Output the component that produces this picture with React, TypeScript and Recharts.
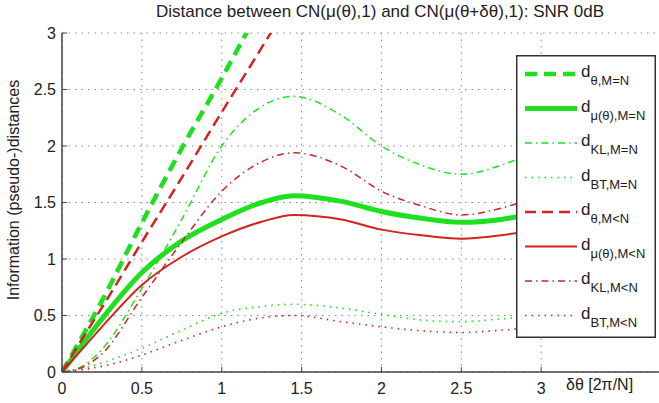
import React from 'react';
import { LineChart, Line, XAxis, YAxis, CartesianGrid, Legend } from 'recharts';

// ---- data ----
const deltaTheta = [0, 0.125, 0.25, 0.5, 0.75, 1.0, 1.25, 1.45, 1.75, 2.0, 2.25, 2.5, 2.75, 3.0, 3.25];

const dThetaEq = [0, 0.31, 0.63, 1.32, 1.98, 2.6, 3.25, 3.77, null, null, null, null, null, null, null];
const dMuEq = [0, 0.24, 0.47, 0.88, 1.16, 1.35, 1.5, 1.56, 1.51, 1.42, 1.36, 1.325, 1.35, 1.42, 1.5];
const dKLEq = [0, 0.05, 0.2, 0.74, 1.35, 2.0, 2.35, 2.44, 2.27, 2.0, 1.83, 1.75, 1.83, 1.98, 2.15];
const dBTEq = [0, 0.03, 0.08, 0.21, 0.37, 0.52, 0.58, 0.6, 0.565, 0.51, 0.46, 0.445, 0.47, 0.5, 0.53];
const dThetaLt = [0, 0.29, 0.57, 1.15, 1.72, 2.3, 2.87, 3.33, null, null, null, null, null, null, null];
const dMuLt = [0, 0.2, 0.4, 0.77, 1.02, 1.2, 1.33, 1.39, 1.35, 1.26, 1.21, 1.18, 1.21, 1.27, 1.35];
const dKLLt = [0, 0.04, 0.16, 0.66, 1.15, 1.6, 1.86, 1.94, 1.82, 1.6, 1.47, 1.39, 1.45, 1.57, 1.7];
const dBTLt = [0, 0.02, 0.05, 0.15, 0.28, 0.4, 0.48, 0.5, 0.445, 0.4, 0.365, 0.35, 0.37, 0.4, 0.43];

const xTicks = [0, 0.5, 1, 1.5, 2, 2.5, 3];
const yTicks = [0, 0.5, 1, 1.5, 2, 2.5, 3];

const seriesSubs = ['θ,M=N', 'μ(θ),M=N', 'KL,M=N', 'BT,M=N', 'θ,M<N', 'μ(θ),M<N', 'KL,M<N', 'BT,M<N'];
const seriesKeys = ['dThetaEq', 'dMuEq', 'dKLEq', 'dBTEq', 'dThetaLt', 'dMuLt', 'dKLLt', 'dBTLt'];
const seriesValues = [dThetaEq, dMuEq, dKLEq, dBTEq, dThetaLt, dMuLt, dKLLt, dBTLt];

const titleText = 'Distance between CN(μ(θ),1) and CN(μ(θ+δθ),1): SNR 0dB';
const xLabelText = 'δθ [2π/N]';
const yLabelText = 'Information (pseudo-)distances';

// ---- styles ----
const GREEN = '#1fe01f';
const RED = '#d42222';
const FONT = '"Liberation Sans", Arial, Helvetica, sans-serif';
const AXIS = '#444';

const seriesStyles = [
  { stroke: GREEN, strokeWidth: 4.5, dash: '12 7' },
  { stroke: GREEN, strokeWidth: 5, dash: undefined },
  { stroke: GREEN, strokeWidth: 1.5, dash: '7 4 1.5 4' },
  { stroke: GREEN, strokeWidth: 1.6, dash: '1.5 5' },
  { stroke: RED, strokeWidth: 2.5, dash: '11 6' },
  { stroke: RED, strokeWidth: 2, dash: undefined },
  { stroke: RED, strokeWidth: 1.5, dash: '7 4 1.5 4' },
  { stroke: RED, strokeWidth: 1.6, dash: '1.5 5' },
];

const data = deltaTheta.map((x, i) => {
  const row: Record<string, number | null> = { x };
  seriesKeys.forEach((k, j) => {
    row[k] = seriesValues[j][i];
  });
  return row;
});

const BottomTick = (props: any) => {
  const { x, y, payload } = props;
  return (
    <g>
      <line x1={x} y1={y} x2={x} y2={y - 5} stroke={AXIS} strokeWidth={1} />
      <text x={x} y={y + 22} textAnchor="middle" fontSize={16} fontFamily={FONT} fill="#222">
        {payload.value}
      </text>
    </g>
  );
};

const TopTick = (props: any) => {
  const { x, y } = props;
  return <line x1={x} y1={y} x2={x} y2={y + 5} stroke={AXIS} strokeWidth={1} />;
};

const LeftTick = (props: any) => {
  const { x, y, payload } = props;
  return (
    <g>
      <line x1={x} y1={y} x2={x + 5} y2={y} stroke={AXIS} strokeWidth={1} />
      <text x={x - 6} y={y + 5.5} textAnchor="end" fontSize={16} fontFamily={FONT} fill="#222">
        {payload.value}
      </text>
    </g>
  );
};

const RightTick = (props: any) => {
  const { x, y } = props;
  return <line x1={x} y1={y} x2={x - 5} y2={y} stroke={AXIS} strokeWidth={1} />;
};

const renderLegend = () => (
  <svg width={140} height={283} style={{ display: 'block' }}>
    <rect x={0.75} y={0.75} width={138.5} height={281.5} fill="#fff" stroke="#333" strokeWidth={1.5} />
    {seriesSubs.map((sub, i) => {
      const ry = 19 + i * 34.5;
      const st = seriesStyles[i];
      return (
        <g key={sub}>
          <line x1={9} x2={61} y1={ry} y2={ry} stroke={st.stroke} strokeWidth={st.strokeWidth} strokeDasharray={st.dash} />
          <text x={65} y={ry + 3} fontSize={17} fontFamily={FONT} fill="#222">
            d
            <tspan dy={8} fontSize={13}>{sub}</tspan>
          </text>
        </g>
      );
    })}
  </svg>
);

export default function App() {
  return (
    <div
      style={{
        position: 'absolute',
        left: 0,
        top: 0,
        width: 659,
        height: 403,
        overflow: 'hidden',
        background: '#fff',
        fontFamily: FONT,
      }}
    >
      <LineChart width={670} height={403} data={data} margin={{ top: 33, right: 9, bottom: 0, left: 0 }}>
        <CartesianGrid stroke="#8a8a8a" strokeDasharray="1.5 5" strokeWidth={1} />
        <XAxis
          dataKey="x"
          type="number"
          domain={[0, 3.75]}
          ticks={xTicks}
          interval={0}
          allowDataOverflow
          height={31}
          tickSize={0}
          tickMargin={0}
          tickLine={false}
          tick={<BottomTick />}
          axisLine={{ stroke: AXIS, strokeWidth: 1.5 }}
        />
        <XAxis
          xAxisId="top"
          orientation="top"
          dataKey="x"
          type="number"
          domain={[0, 3.75]}
          ticks={xTicks}
          interval={0}
          allowDataOverflow
          height={0}
          tickSize={0}
          tickMargin={0}
          tickLine={false}
          tick={<TopTick />}
          axisLine={{ stroke: AXIS, strokeWidth: 1.5 }}
        />
        <YAxis
          type="number"
          domain={[0, 3]}
          ticks={yTicks}
          interval={0}
          allowDataOverflow
          width={62}
          tickSize={0}
          tickMargin={0}
          tickLine={false}
          tick={<LeftTick />}
          axisLine={{ stroke: AXIS, strokeWidth: 1.5 }}
        />
        <YAxis
          yAxisId="right"
          orientation="right"
          type="number"
          domain={[0, 3]}
          ticks={yTicks}
          interval={0}
          allowDataOverflow
          width={0}
          tickSize={0}
          tickMargin={0}
          tickLine={false}
          tick={<RightTick />}
          axisLine={{ stroke: AXIS, strokeWidth: 1.5 }}
        />
        {seriesKeys.map((k, i) => (
          <Line
            key={k}
            dataKey={k}
            name={'d' + seriesSubs[i]}
            type="monotone"
            stroke={seriesStyles[i].stroke}
            strokeWidth={seriesStyles[i].strokeWidth}
            strokeDasharray={seriesStyles[i].dash}
            dot={false}
            activeDot={false}
            isAnimationActive={false}
          />
        ))}
        <Legend
          layout="vertical"
          align="center"
          verticalAlign="middle"
          content={renderLegend}
          wrapperStyle={{ position: 'absolute', left: 516, top: 55, width: 140, height: 283 }}
        />
      </LineChart>
      <div
        style={{
          position: 'absolute',
          left: 0,
          top: 2,
          width: 760,
          textAlign: 'center',
          fontSize: 17,
          color: '#222',
          whiteSpace: 'nowrap',
        }}
      >
        {titleText}
      </div>
      <div
        style={{
          position: 'absolute',
          left: 566,
          top: 376,
          fontSize: 16,
          color: '#222',
          whiteSpace: 'nowrap',
        }}
      >
        {xLabelText}
      </div>
      <div
        style={{
          position: 'absolute',
          left: 14,
          top: 190,
          fontSize: 16,
          color: '#222',
          whiteSpace: 'nowrap',
          transform: 'translate(-50%, -50%) rotate(-90deg)',
        }}
      >
        {yLabelText}
      </div>
    </div>
  );
}
